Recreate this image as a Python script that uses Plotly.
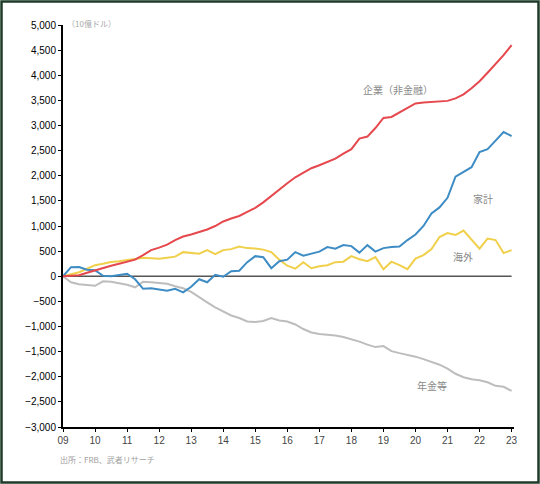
import plotly.graph_objects as go

# quarterly points, 2009Q1 .. 2023Q1 (index 0..56)
tick_labels = ["09", "10", "11", "12", "13", "14", "15", "16",
               "17", "18", "19", "20", "21", "22", "23"]

corporate = [0, 10, 20, 70, 120, 170, 210, 250, 290, 330, 420, 520, 570, 630, 720, 790,
             830, 880, 930, 1000, 1090, 1150, 1200, 1280, 1360, 1470, 1600, 1720, 1850, 1970,
             2060, 2150, 2210, 2280, 2340, 2440, 2530, 2740, 2780, 2950, 3150, 3170, 3260,
             3360, 3440, 3460, 3470, 3480, 3490, 3540, 3620, 3740, 3880, 4050, 4220, 4400, 4600]

household = [0, 180, 185, 130, 120, 10, 0, 20, 50, -60, -250, -240, -260, -290, -250, -320,
             -210, -60, -120, 30, -10, 100, 110, 280, 400, 380, 160, 300, 330, 480, 410, 450,
             490, 580, 550, 620, 600, 470, 620, 490, 560, 580, 590, 720, 830, 1000, 1250,
             1370, 1560, 1980, 2080, 2170, 2470, 2530, 2700, 2870, 2790]

foreign = [0, 40, 80, 150, 220, 250, 285, 300, 320, 340, 370, 360, 350, 370, 390, 480,
           470, 450, 520, 440, 520, 540, 590, 560, 550, 530, 480, 330, 210, 150, 280, 160,
           200, 220, 280, 290, 400, 340, 300, 380, 140, 290, 220, 140, 350, 420, 540, 780,
           860, 820, 910, 720, 550, 750, 720, 460, 520]

pension = [0, -120, -160, -170, -190, -100, -110, -140, -170, -220, -110, -120, -130, -150,
           -200, -240, -310, -420, -520, -620, -700, -780, -830, -900, -910, -890, -830, -880,
           -900, -960, -1050, -1120, -1150, -1160, -1180, -1210, -1250, -1300, -1360, -1410,
           -1390, -1490, -1530, -1560, -1600, -1650, -1700, -1760, -1840, -1940, -2010, -2050,
           -2070, -2110, -2180, -2200, -2280]

x = list(range(len(corporate)))

W, H = 540, 484
ML, MR, MT, MB = 63, 26, 25, 57
JP = "Noto Sans CJK JP"

fig = go.Figure()
for vals, color in [(pension, "#BDBDBD"), (foreign, "#F0D04A"),
                    (household, "#3E8CC4"), (corporate, "#E5484D")]:
    fig.add_trace(go.Scatter(x=x, y=vals, mode="lines",
                             line=dict(color=color, width=2), showlegend=False))

# zero line
fig.add_shape(type="line", x0=0, x1=56, y0=0, y1=0, xref="x", yref="y",
              line=dict(color="#555555", width=1.5), layer="below")

# outer frame
pw, ph = W - ML - MR, H - MT - MB
fig.add_shape(type="rect", xref="paper", yref="paper",
              x0=(1.5 - ML) / pw, x1=(W - 1.5 - ML) / pw,
              y0=-(MB - 1.5) / ph, y1=1 + (MT - 1.5) / ph,
              line=dict(color="#1E3B28", width=2.5))

labels = [("企業（非金融）", 41.8, 3720), ("家計", 52.4, 1550),
          ("海外", 49.9, 400), ("年金等", 46.1, -2170)]
for text, lx, ly in labels:
    fig.add_annotation(x=lx, y=ly, text=text, showarrow=False,
                       font=dict(family=JP, size=10, color="#8A8A8A"))

fig.add_annotation(xref="paper", yref="paper", x=2 / pw, y=1 + 9 / ph,
                   text="（10億ドル）", showarrow=False, xanchor="left",
                   font=dict(family=JP, size=8, color="#A8A8A8"))
fig.add_annotation(xref="paper", yref="paper", x=-5 / pw, y=-40 / ph,
                   text="出所：FRB、武者リサーチ", showarrow=False, xanchor="left",
                   font=dict(family=JP, size=8, color="#A0A0A0"))

fig.update_layout(
    width=W, height=H,
    margin=dict(l=ML, r=MR, t=MT, b=MB),
    paper_bgcolor="white", plot_bgcolor="white",
    xaxis=dict(range=[0, 56.3], tickvals=list(range(0, 57, 4)), ticktext=tick_labels,
               showgrid=False, zeroline=False, showline=True, linecolor="black",
               linewidth=2, ticks="outside", ticklen=3, tickcolor="black",
               tickfont=dict(family="Liberation Sans", size=10, color="#444444")),
    yaxis=dict(range=[-3000, 5000], dtick=500, tickformat=",",
               showgrid=False, zeroline=False, showline=True, linecolor="black",
               linewidth=2, ticks="outside", ticklen=3, tickcolor="black",
               tickfont=dict(family="Liberation Sans", size=10, color="black")),
)

# drop the default page margin so the figure sits at the window's corner
fig.write_html("out.html", config={"displayModeBar": False},
               post_script="document.body.style.margin='0';")
